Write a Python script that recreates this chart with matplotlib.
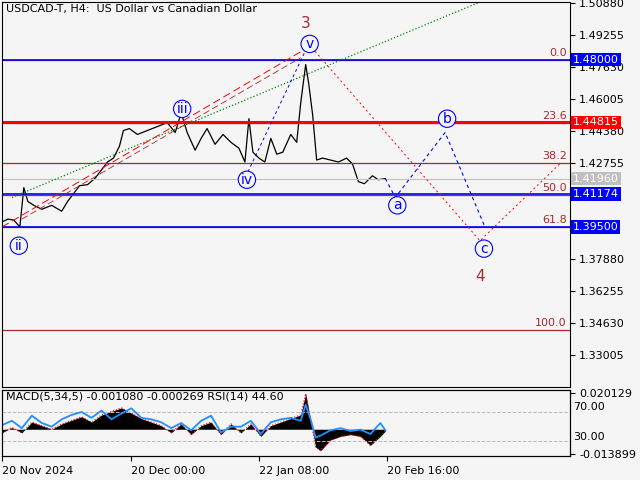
import matplotlib
matplotlib.use("Agg")
import matplotlib.pyplot as plt
import numpy as np

# price path (bar index, close)
px = [0,6,12,18,22,26,32,40,50,60,66,72,78,86,94,100,106,112,118,122,128,136,146,156,166,174,180,186,194,200,206,214,222,230,238,244,248,252,258,264,270,276,282,290,296,300,305,308,312,316,322,330,338,346,352,358,364,372,378,385]
pp = [1.3975,1.3990,1.3985,1.3950,1.4150,1.4080,1.4060,1.4040,1.4060,1.4030,1.4080,1.4120,1.4160,1.4165,1.4200,1.4240,1.4280,1.4300,1.4360,1.4440,1.4450,1.4420,1.4440,1.4460,1.4480,1.4430,1.4530,1.4430,1.4340,1.4400,1.4450,1.4370,1.4420,1.4380,1.4350,1.4280,1.4500,1.4330,1.4300,1.4280,1.4400,1.4320,1.4330,1.4420,1.4380,1.4580,1.4775,1.4680,1.4520,1.4290,1.4300,1.4290,1.4280,1.4300,1.4270,1.4180,1.4170,1.4210,1.4190,1.4196]
fib_levels = [0.0, 23.6, 38.2, 50.0, 61.8, 100.0]
fib_hi, fib_lo = 1.4800, 1.3427
blue_levels = [1.48000, 1.41174, 1.39500]
red_level = 1.44815
cur_price = 1.41960
yticks = [1.50880,1.49255,1.47630,1.46005,1.44380,1.42755,1.41130,1.39505,1.37880,1.36255,1.34630,1.33005]
ytick_labels = ["1.50880","1.49255","1.47630","1.46005","1.44380","1.42755","","","1.37880","1.36255","1.34630","1.33005"]
xticks = [0,130,258,387]
xtick_labels = ["20 Nov 2024","20 Dec 00:00","22 Jan 08:00","20 Feb 16:00"]
# wave labels (x, price, text)
waves = [(17,1.3855,"ii"),(181,1.4550,"iii"),(246,1.4190,"iv"),(309,1.4880,"v"),(397,1.4060,"a"),(447,1.4500,"b"),(484,1.3840,"c")]
proj_x = [385,395,445,485]
proj_y = [1.4196,1.4100,1.4430,1.3950]
red_proj_x = [308,480,560]
red_proj_y = [1.4880,1.3880,1.4270]
# indicator
mx = [0,10,20,30,40,50,60,70,80,90,100,110,120,130,140,150,160,170,180,190,200,210,220,230,240,250,260,270,280,290,300,305,310,315,320,330,340,350,360,370,380,385]
macd = [-0.002,0.001,-0.002,0.004,0.002,0.000,0.003,0.005,0.007,0.004,0.008,0.010,0.012,0.009,0.006,0.004,0.002,-0.002,0.003,-0.003,0.002,0.004,-0.003,0.003,-0.002,0.003,-0.004,0.002,0.004,0.006,0.008,0.020,0.005,-0.010,-0.012,-0.006,-0.004,-0.003,-0.004,-0.009,-0.004,-0.001]
rsi = [52,58,48,65,55,50,60,66,70,62,72,60,68,75,62,60,56,48,55,45,58,65,42,50,50,58,40,56,60,62,58,80,60,35,38,45,48,44,46,40,55,45]

fig = plt.figure(figsize=(6.4,4.8), dpi=100, facecolor="#f5f5f5")
ax = fig.add_axes([0.003, 1-387/480, 0.887, 385/480], facecolor="#f5f5f5")
ax.set_xlim(0,570); ax.set_ylim(1.3137,1.5093)
ax.plot(px, pp, color="black", lw=0.9)
for lv in fib_levels:
    y = fib_hi - (fib_hi-fib_lo)*lv/100
    ax.axhline(y, color="#a52a2a", lw=0.9)
    ax.text(567, y+0.001, f"{lv:.1f}", color="#a52a2a", ha="right", va="bottom", fontsize=8)
for b in blue_levels:
    ax.axhline(b, color="blue", lw=1.2)
ax.axhline(red_level, color="red", lw=2.2)
ax.axhline(cur_price, color="#c0c0c0", lw=0.8)
ax.plot([10,480],[1.4100,1.5093], color="green", ls=":", lw=0.9)
ax.plot([0,300],[1.3950,1.4840], color="red", ls=(0,(8,4)), lw=0.7)
ax.plot([20,300],[1.3990,1.4810], color="#a52a2a", ls=(0,(8,4)), lw=0.6)
ax.plot([247,308],[1.4230,1.4880], color="blue", ls=(0,(3,3)), lw=0.7)
ax.plot(red_proj_x, red_proj_y, color="red", ls=(0,(2,3)), lw=0.7)
ax.plot(proj_x, proj_y, color="blue", ls=(0,(3,3)), lw=0.8)
for x,y,t in waves:
    ax.text(x,y,t,ha="center",va="center",color="blue",fontsize=10,
            bbox=dict(boxstyle="circle,pad=0.12",fc="#f5f5f5",ec="blue",lw=0.8))
ax.text(305,1.4985,"3",color="#a52a2a",fontsize=11,ha="center",va="center")
ax.text(480,1.3700,"4",color="#a52a2a",fontsize=11,ha="center",va="center")
ax.text(4,1.5040,"USDCAD-T, H4:  US Dollar vs Canadian Dollar",fontsize=8)
ax.yaxis.tick_right()
ax.set_yticks(yticks); ax.set_yticklabels(ytick_labels, fontsize=8)
ax.set_xticks([])
def tag(y,txt,fc,c="white"):
    ax.text(1.006,y,txt,transform=ax.get_yaxis_transform(),fontsize=8,color=c,va="center",
            bbox=dict(boxstyle="square,pad=0.15",fc=fc,ec="none"))
tag(1.48000,"1.48000","blue"); tag(1.44815,"1.44815","red"); tag(1.41960,"1.41960","#c0c0c0")
tag(1.41174,"1.41174","blue"); tag(1.39500,"1.39500","blue")

ax2 = fig.add_axes([0.003, 0.05, 0.887, 66/480], facecolor="#f5f5f5")
ax2.set_xlim(0,570); ax2.set_ylim(-0.015,0.022)
ax2.fill_between(mx, 0, macd, color="black", lw=0)
ax2.plot(mx, macd, color="red", ls=":", lw=0.8)
ax3 = ax2.twinx(); ax3.set_ylim(10,100)
ax3.axhline(70,color="#bbbbbb",ls="--",lw=0.7); ax3.axhline(30,color="#bbbbbb",ls="--",lw=0.7)
ax3.plot(mx, rsi, color="#1e90ff", lw=1.3)
ax3.set_yticks([]); ax2.yaxis.tick_right()
ax2.set_yticks([0.020129,-0.013899]); ax2.set_yticklabels(["0.020129","-0.013899"],fontsize=8)
ax2.text(4,0.0165,"MACD(5,34,5) -0.001080 -0.000269 RSI(14) 44.60",fontsize=8)
ax2.set_xticks(xticks); ax2.set_xticklabels(xtick_labels, fontsize=8, ha="left")
fig.text(0.895, 1-410/480,"70.00",fontsize=8); fig.text(0.895,1-440/480,"30.00",fontsize=8)
fig.savefig("out.png", dpi=100, facecolor=fig.get_facecolor())
